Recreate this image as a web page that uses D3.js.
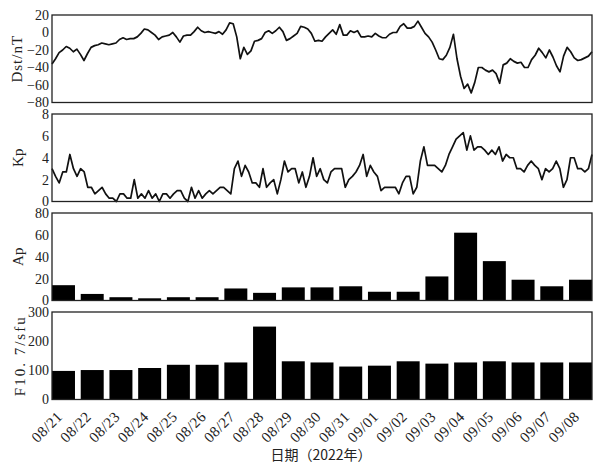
<!DOCTYPE html>
<html>
<head>
<meta charset="utf-8">
<script src="https://cdn.jsdelivr.net/npm/d3@7"></script>
<style>
  body { margin: 0; background: #fff; }
  text { font-family: "Liberation Serif", "DejaVu Serif", serif; fill: #222; }
</style>
</head>
<body>
<svg id="chart"></svg>
<script>
// daily labels, 2022-08-21 .. 2022-09-08
const days = ["08/21", "08/22", "08/23", "08/24", "08/25", "08/26", "08/27", "08/28", "08/29", "08/30",
              "08/31", "09/01", "09/02", "09/03", "09/04", "09/05", "09/06", "09/07", "09/08"];

// Dst index (nT), read every 3 hours off the figure
const dst = [-36, -30, -23, -20, -16, -18, -22, -19, -25, -32, -24, -17, -15, -14, -12, -13, -14, -13, -12, -8,
             -6, -8, -7, -7, -5, -1, 4, 3, 0, -3, -8, -5, -4, -3, 0, -5, -11, -4, -3, -3,
             1, 6, 2, 0, 1, 0, -1, 1, -2, 3, 11, 10, -5, -30, -17, -25, -21, -10, -9, -7,
             0, 2, -1, 2, 6, 1, -9, -7, -4, -1, 7, 6, 4, -1, -10, -9, -10, -5, -1, 3,
             -2, 9, -3, -3, 2, 0, 2, -5, -5, -4, -5, -1, -4, -6, -6, -2, 0, 0, 7, 10,
             5, 5, 7, 13, 6, -1, -5, -11, -20, -30, -31, -26, -17, -2, -30, -50, -64, -59, -69, -57,
             -40, -40, -43, -45, -43, -47, -58, -37, -35, -30, -33, -35, -34, -40, -40, -31, -26, -18, -23, -29,
             -20, -28, -38, -45, -27, -17, -22, -29, -32, -31, -29, -27, -22];

// Kp index, 3-hourly
const kp = [3.0, 2.3, 1.7, 2.7, 2.7, 4.3, 3.0, 2.3, 3.0, 2.7, 1.3, 1.3, 0.7, 1.0, 1.3, 0.7, 0.3, 0.3, 0, 0.7,
            0.7, 0.3, 0.3, 2.0, 0.3, 0.7, 0.3, 1.0, 0.3, 0.7, 0, 0.7, 0.7, 0.3, 0.7, 1.0, 1.0, 0.3, 0, 1.3,
            0.3, 1.0, 0.3, 0.7, 1.0, 0.7, 1.0, 1.3, 1.3, 1.0, 0.7, 3.0, 3.7, 2.3, 3.3, 2.7, 1.7, 1.7, 1.3, 3.0,
            1.3, 1.7, 2.0, 0.7, 2.0, 3.7, 2.7, 3.0, 3.0, 1.7, 2.7, 1.3, 2.3, 4.0, 2.3, 3.0, 2.0, 1.7, 2.7, 3.0,
            3.0, 3.0, 1.3, 2.0, 2.3, 2.7, 3.3, 4.3, 2.3, 3.3, 2.7, 2.3, 1.0, 1.3, 1.3, 1.3, 1.3, 0.7, 1.7, 2.3,
            2.3, 0.7, 1.3, 3.7, 5.0, 3.3, 3.3, 3.3, 3.0, 2.7, 3.3, 4.3, 5.0, 5.7, 6.0, 6.3, 4.7, 6.0, 4.7, 5.0,
            5.0, 4.7, 4.3, 4.7, 4.3, 5.0, 3.7, 4.3, 4.0, 4.0, 3.0, 3.0, 2.7, 3.3, 3.7, 3.3, 3.0, 2.0, 3.0, 2.7,
            3.0, 3.7, 3.0, 1.3, 2.0, 4.0, 4.0, 3.0, 3.0, 2.7, 3.0, 4.3];

// daily Ap and F10.7
const ap = [14, 6, 3, 2, 3, 3, 11, 7, 12, 12, 13, 8, 8, 22, 62, 36, 19, 13, 19];
const f107 = [98, 101, 101, 108, 119, 119, 127, 250, 131, 127, 113, 116, 131, 123, 127, 131, 127, 127, 127];

const dstTicks = [-80, -60, -40, -20, 0, 20];
const kpTicks = [0, 2, 4, 6, 8];
const apTicks = [0, 20, 40, 60, 80];
const f107Ticks = [0, 100, 200, 300];

const width = 593, height = 466;
const left = 52, right = 592;
const panelH = 87.5;

const svg = d3.select("#chart")
    .attr("width", width)
    .attr("height", height);

const xLine = d3.scaleLinear().range([left, right]);
const xBand = d3.scaleBand()
    .domain(days)
    .range([left, right])
    .paddingInner(0.2)
    .paddingOuter(0);

function panel(top, ticks, title, tx, spacing) {
    const y = d3.scaleLinear()
        .domain(d3.extent(ticks))
        .range([top + panelH, top]);

    const g = svg.append("g");
    g.append("g")
        .attr("transform", `translate(${left},0)`)
        .call(d3.axisLeft(y).tickValues(ticks).tickSize(0).tickPadding(3))
        .call(a => a.select(".domain").remove())
        .selectAll("text")
        .style("font-family", "'Liberation Serif', serif")
        .style("font-size", "14px")
        .attr("fill", "#222");

    g.append("text")
        .attr("transform", `translate(${tx},${top + panelH / 2}) rotate(-90)`)
        .attr("text-anchor", "middle")
        .attr("dy", "0.35em")
        .style("font-size", "15px")
        .style("letter-spacing", spacing + "px")
        .text(title);
    return y;
}

function frame(top) {
    svg.append("rect")
        .attr("x", left)
        .attr("y", top)
        .attr("width", right - left)
        .attr("height", panelH)
        .attr("fill", "none")
        .attr("stroke", "#222")
        .attr("stroke-width", 1.3);
}

function drawLine(values, y) {
    const x = xLine.copy().domain([0, values.length - 1]);
    svg.append("path")
        .datum(values)
        .attr("fill", "none")
        .attr("stroke", "#111")
        .attr("stroke-width", 1.7)
        .attr("stroke-linejoin", "round")
        .attr("d", d3.line().x((d, i) => x(i)).y(d => y(d)));
}

function drawBars(values, y) {
    svg.append("g").selectAll("rect")
        .data(values)
        .join("rect")
        .attr("x", (d, i) => xBand(days[i]))
        .attr("y", d => y(d))
        .attr("width", xBand.bandwidth())
        .attr("height", d => y(0) - y(d))
        .attr("fill", "#000");
}

// Dst
const yDst = panel(15, dstTicks, "Dst/nT", 17, 1);
drawLine(dst, yDst);
frame(15);

// Kp
const yKp = panel(114, kpTicks, "Kp", 18, 0);
drawLine(kp, yKp);
frame(114);

// Ap
const yAp = panel(213, apTicks, "Ap", 18, 0);
drawBars(ap, yAp);
frame(213);

// F10.7
const yF = panel(312, f107Ticks, "F10. 7/sfu", 20, 2);
drawBars(f107, yF);
frame(312);

// date axis
const xAxis = svg.append("g")
    .attr("transform", `translate(0,${312 + panelH})`)
    .call(d3.axisBottom(xBand).tickSize(0).tickPadding(0));
xAxis.select(".domain").remove();
xAxis.selectAll("text")
    .style("font-family", "'Liberation Serif', serif")
    .style("font-size", "15px")
    .style("letter-spacing", "0.5px")
    .attr("fill", "#333")
    .attr("text-anchor", "end")
    .attr("dy", null)
    .attr("y", 0)
    .attr("transform", "translate(0,18) rotate(-45)");

svg.append("text")
    .attr("x", 321)
    .attr("y", 460)
    .attr("text-anchor", "middle")
    .style("font-family", "'Noto Sans CJK SC', sans-serif")
    .style("font-size", "14px")
    .text("日期（2022年）");
</script>
</body>
</html>
